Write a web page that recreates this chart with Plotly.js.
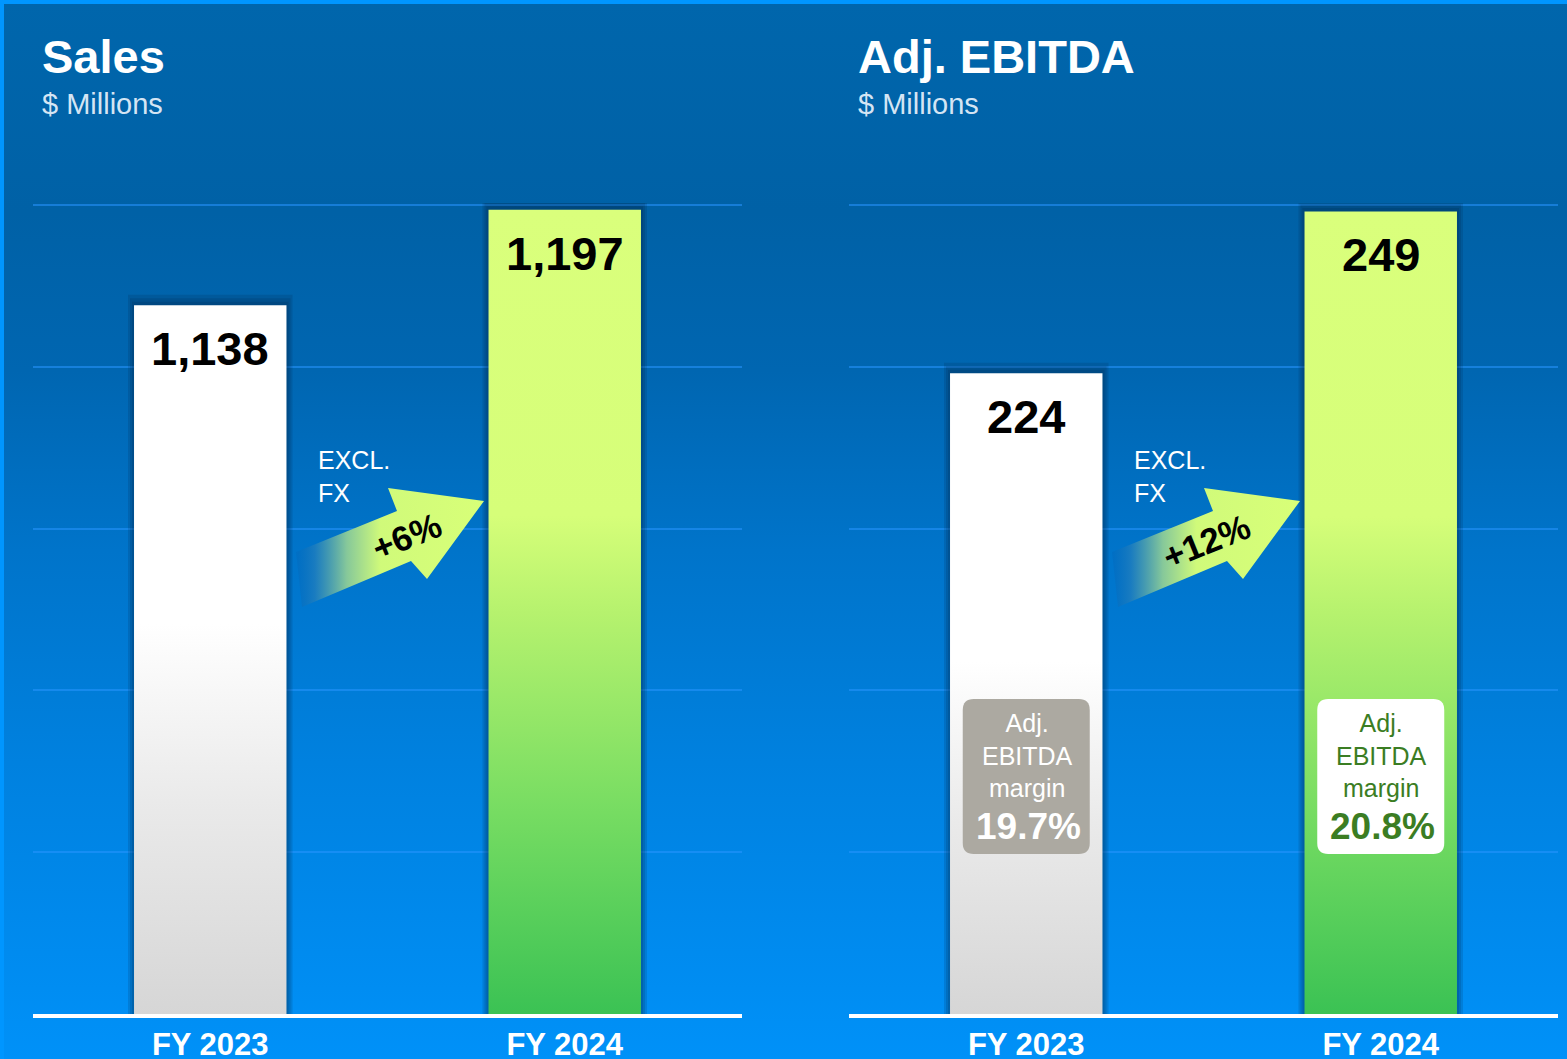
<!DOCTYPE html>
<html><head><meta charset="utf-8">
<script src="https://cdn.plot.ly/plotly-3.0.1.min.js"></script>
<style>
html,body{margin:0;padding:0;overflow:hidden;background:#0066AC;}
#chart{width:1567px;height:1059px;background:linear-gradient(to bottom,#0066AC 0%,#0061A6 20%,#0066B1 35%,#0074CA 52%,#0081DF 72%,#008BEF 90%,#0091F8 100%);}
</style></head><body><div id="chart"></div>
<script>
// ---- data ----
const categories = ['FY 2023', 'FY 2024'];
const salesValues = [1138, 1197];
const ebitdaValues = [224, 249];
const salesAxisRange = [700, 1200];
const ebitdaAxisRange = [125, 250];
const salesGridStep = 100;
const ebitdaGridStep = 25;
const marginLabels = ['19.7%', '20.8%'];
const fxGrowth = ['+6%', '+12%'];
const panelTitles = ['Sales', 'Adj. EBITDA'];
const unitLabel = '$ Millions';
const fxLabel = 'EXCL.<br>FX';
const marginText = 'Adj.<br>EBITDA<br>margin';

// ---- layout constants ----
const W = 1567, H = 1059;
const FONT = 'Liberation Sans, Arial, sans-serif';
const panelLeft = [33, 849], panelWidth = 709;
const gridTop = 205, plotBottom = 1014, topPad = 2; // extra px above top gridline so it is drawn
const plotTop = gridTop - topPad;
const barHalf = 0.215;
const px = x => x / W;
const py = y => 1 - y / H;

const whiteScale = [[0, '#D6D6D6'], [0.3, '#EAEAEA'], [0.55, '#FFFFFF'], [1, '#FFFFFF']];
const greenScale = [[0, '#3BC254'], [0.25, '#76DC62'], [0.5, '#B6F26E'], [0.62, '#D6FE79'], [1, '#DAFF7C']];
const barScales = [whiteScale, greenScale];

const traces = [];
const annotations = [];
const shapes = [];

function paddedRange(range) {
  const dyPerPx = (range[1] - range[0]) / (plotBottom - gridTop);
  return [range[0], range[1] + topPad * dyPerPx];
}

function addPanel(p, values, range, xa, ya) {
  const dyPerPx = (range[1] - range[0]) / (plotBottom - gridTop);
  const dxPerPx = 2 / panelWidth;
  values.forEach((v, i) => {
    // soft shadow
    for (let k = 3; k >= 1; k--) {
      const ex = barHalf + k * 2 * dxPerPx;
      const top = v + k * 3.5 * dyPerPx;
      traces.push({
        type: 'scatter', mode: 'lines', xaxis: xa, yaxis: ya,
        x: [i - ex, i + ex, i + ex, i - ex, i - ex],
        y: [range[0], range[0], top, top, range[0]],
        fill: 'toself', fillcolor: 'rgba(0,25,60,0.14)', line: {width: 0},
        hoverinfo: 'skip', showlegend: false
      });
    }
    traces.push({
      type: 'scatter', mode: 'lines', xaxis: xa, yaxis: ya,
      x: [i - barHalf, i + barHalf, i + barHalf, i - barHalf, i - barHalf],
      y: [range[0], range[0], v, v, range[0]],
      fill: 'toself',
      fillgradient: {type: 'vertical', start: range[0], stop: v, colorscale: barScales[i]},
      line: {width: 0}, hoverinfo: 'skip', showlegend: false
    });
    annotations.push({
      xref: xa, yref: ya, x: i, y: v, yanchor: 'top', yshift: -15,
      text: '<b>' + v.toLocaleString('en-US') + '</b>', showarrow: false,
      font: {family: FONT, size: 47, color: '#000000'}
    });
  });
  // titles
  annotations.push({
    xref: 'paper', yref: 'paper', x: px(panelLeft[p] + 7), y: py(57), xanchor: 'left', yanchor: 'middle',
    text: '<b>' + panelTitles[p] + '</b>', showarrow: false,
    font: {family: FONT, size: 47, color: '#FFFFFF'}
  });
  annotations.push({
    xref: 'paper', yref: 'paper', x: px(panelLeft[p] + 7), y: py(104), xanchor: 'left', yanchor: 'middle',
    text: unitLabel, showarrow: false,
    font: {family: FONT, size: 29, color: 'rgba(235,243,252,0.92)'}
  });
  annotations.push({
    xref: 'paper', yref: 'paper', x: px(panelLeft[p] + 283), y: py(476), xanchor: 'left', yanchor: 'middle', align: 'left',
    text: fxLabel, showarrow: false,
    font: {family: FONT, size: 25, color: '#FFFFFF'}
  });
}

addPanel(0, salesValues, salesAxisRange, 'x', 'y');
addPanel(1, ebitdaValues, ebitdaAxisRange, 'x2', 'y2');

// growth arrows (decorative, page-pixel overlay)
const arrowShape = [[302, 607], [296, 552], [397, 511], [388, 488], [484, 501], [427, 579], [411, 561], [302, 607]];
const arrowOffsets = [0, 816];
const growthCenters = [[406, 536], [1206, 541]];
arrowOffsets.forEach((off, j) => {
  traces.push({
    type: 'scatter', mode: 'lines', xaxis: 'x3', yaxis: 'y3',
    x: arrowShape.map(p => p[0] + off), y: arrowShape.map(p => p[1]),
    fill: 'toself',
    fillgradient: {type: 'horizontal', start: 296 + off, stop: 484 + off,
      colorscale: [[0, 'rgba(0,105,190,0.5)'], [0.1, 'rgba(30,125,190,0.85)'], [0.27, '#86C89A'], [0.45, '#D0FA7A'], [1, '#D8FF78']]},
    line: {width: 0}, hoverinfo: 'skip', showlegend: false
  });
  annotations.push({
    xref: 'paper', yref: 'paper', x: px(growthCenters[j][0]), y: py(growthCenters[j][1]),
    xanchor: 'center', yanchor: 'middle', textangle: -22,
    text: '<b>' + fxGrowth[j] + '</b>', showarrow: false,
    font: {family: FONT, size: 35, color: '#000000'}
  });
});

// margin boxes on EBITDA bars
const boxStyles = [{bg: '#ACA9A1', fg: '#FFFFFF'}, {bg: '#FFFFFF', fg: '#3B7D23'}];
function roundRect(x0, y0, x1, y1, r) {
  const P = (x, y) => px(x) + ',' + py(y);
  return 'M' + P(x0 + r, y0) + ' L' + P(x1 - r, y0) + ' Q' + P(x1, y0) + ' ' + P(x1, y0 + r) +
    ' L' + P(x1, y1 - r) + ' Q' + P(x1, y1) + ' ' + P(x1 - r, y1) +
    ' L' + P(x0 + r, y1) + ' Q' + P(x0, y1) + ' ' + P(x0, y1 - r) +
    ' L' + P(x0, y0 + r) + ' Q' + P(x0, y0) + ' ' + P(x0 + r, y0) + ' Z';
}
marginLabels.forEach((m, i) => {
  const cx = panelLeft[1] + (i + 0.5) * panelWidth / 2;
  shapes.push({type: 'path', xref: 'paper', yref: 'paper', path: roundRect(cx - 63.5, 699, cx + 63.5, 854, 11),
    fillcolor: boxStyles[i].bg, line: {width: 0}, layer: 'above'});
  annotations.push({
    xref: 'x2', yref: 'paper', x: i, y: py(755), yanchor: 'middle', xshift: 1,
    text: marginText, showarrow: false,
    font: {family: FONT, size: 25, color: boxStyles[i].fg}
  });
  annotations.push({
    xref: 'x2', yref: 'paper', x: i, y: py(826), yanchor: 'middle', xshift: 2,
    text: '<b>' + m + '</b>', showarrow: false,
    font: {family: FONT, size: 37, color: boxStyles[i].fg}
  });
});

// page border strips
shapes.push({type: 'rect', xref: 'paper', yref: 'paper', x0: 0, x1: 1, y0: py(4), y1: 1, fillcolor: '#0096FF', line: {width: 0}, layer: 'above'});
shapes.push({type: 'rect', xref: 'paper', yref: 'paper', x0: 0, x1: px(4), y0: 0, y1: 1, fillcolor: '#0096FF', line: {width: 0}, layer: 'above'});

function xAxis(p) {
  return {
    domain: [px(panelLeft[p]), px(panelLeft[p] + panelWidth)], range: [-0.5, 1.5],
    tickmode: 'array', tickvals: categories.map((c, i) => i), ticktext: categories.map(c => '<b>' + c + '</b>'),
    showgrid: false, zeroline: false, showline: true, linecolor: '#FFFFFF', linewidth: 4,
    ticks: '', tickfont: {family: FONT, size: 31, color: '#FFFFFF'}, automargin: false, fixedrange: true
  };
}
function yAxis(range, step) {
  return {
    domain: [py(plotBottom), py(plotTop)], range: paddedRange(range), tick0: range[0], dtick: step,
    showgrid: true, gridcolor: 'rgba(40,150,255,0.55)', gridwidth: 2,
    showticklabels: false, zeroline: false, showline: false, ticks: '', automargin: false, fixedrange: true
  };
}

const layout = {
  width: W, height: H,
  margin: {l: 0, r: 0, t: 0, b: 0},
  paper_bgcolor: 'rgba(0,0,0,0)', plot_bgcolor: 'rgba(0,0,0,0)',
  showlegend: false,
  xaxis: xAxis(0), yaxis: yAxis(salesAxisRange, salesGridStep),
  xaxis2: Object.assign(xAxis(1), {anchor: 'y2'}), yaxis2: Object.assign(yAxis(ebitdaAxisRange, ebitdaGridStep), {anchor: 'x2'}),
  xaxis3: {domain: [0, 1], range: [0, W], visible: false, anchor: 'y3', fixedrange: true},
  yaxis3: {domain: [0, 1], range: [H, 0], visible: false, anchor: 'x3', fixedrange: true},
  annotations: annotations, shapes: shapes
};

Plotly.newPlot('chart', traces, layout, {staticPlot: true, displayModeBar: false});
</script>
</body></html>
